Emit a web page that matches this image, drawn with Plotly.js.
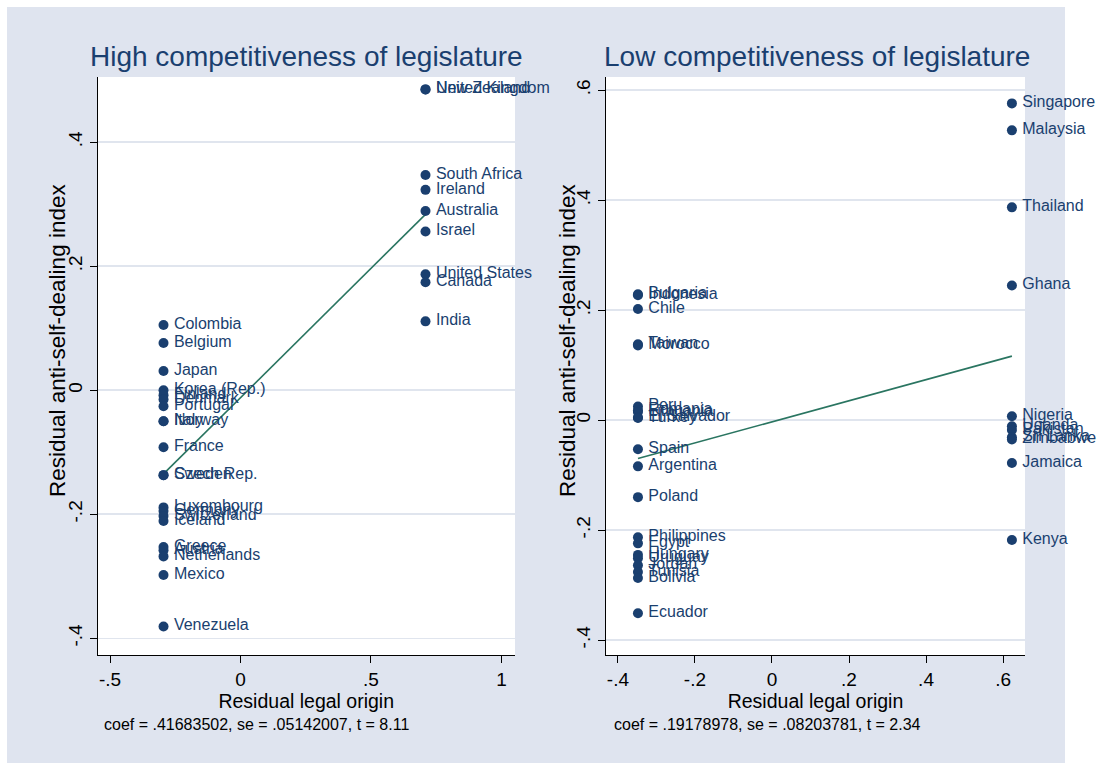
<!DOCTYPE html>
<html>
<head>
<meta charset="utf-8">
<script src="https://cdn.plot.ly/plotly-3.0.1.min.js"></script>
<style>html,body{margin:0;padding:0;background:#fff;}#chart{width:1097px;height:769px;}</style>
</head>
<body>
<div id="chart"></div>
<script>
// ---- data: high competitiveness of legislature ----
const hiCountries = ["Colombia","Belgium","Japan","Korea (Rep.)","Finland","Denmark","Portugal","Italy","Norway","France","Czech Rep.","Sweden","Luxembourg","Germany","Switzerland","Iceland","Greece","Austria","Netherlands","Mexico","Venezuela","New Zealand","United Kingdom","South Africa","Ireland","Australia","Israel","United States","Canada","India"];
const hiX = [-0.295,-0.295,-0.295,-0.295,-0.295,-0.295,-0.295,-0.295,-0.295,-0.295,-0.295,-0.295,-0.295,-0.295,-0.295,-0.295,-0.295,-0.295,-0.295,-0.295,-0.295,0.709,0.709,0.709,0.709,0.709,0.709,0.709,0.709,0.709];
const hiY = [0.105,0.076,0.031,0.000,-0.008,-0.015,-0.026,-0.050,-0.050,-0.092,-0.137,-0.137,-0.189,-0.195,-0.203,-0.211,-0.253,-0.258,-0.268,-0.298,-0.381,0.485,0.485,0.347,0.323,0.289,0.256,0.187,0.174,0.111];
const hiCoef = 0.41683502, hiIntercept = -0.012;
const hiNote = "coef = .41683502, se = .05142007, t = 8.11";

// ---- data: low competitiveness of legislature ----
const loCountries = ["Bulgaria","Indonesia","Chile","Taiwan","Morocco","Peru","Romania","Lithuania","El Salvador","Turkey","Spain","Argentina","Poland","Philippines","Egypt","Hungary","Uruguay","Jordan","Tunisia","Bolivia","Ecuador","Singapore","Malaysia","Thailand","Ghana","Nigeria","Uganda","Pakistan","Sri Lanka","Zimbabwe","Jamaica","Kenya"];
const loX = [-0.348,-0.348,-0.348,-0.348,-0.348,-0.348,-0.348,-0.348,-0.348,-0.348,-0.348,-0.348,-0.348,-0.348,-0.348,-0.348,-0.348,-0.348,-0.348,-0.348,-0.348,0.623,0.623,0.623,0.623,0.623,0.623,0.623,0.623,0.623,0.623,0.623];
const loY = [0.229,0.227,0.202,0.138,0.136,0.025,0.018,0.015,0.005,0.004,-0.053,-0.084,-0.140,-0.213,-0.224,-0.245,-0.251,-0.264,-0.276,-0.287,-0.351,0.576,0.527,0.387,0.245,0.007,-0.011,-0.018,-0.031,-0.035,-0.078,-0.218];
const loCoef = 0.19178978, loIntercept = -0.003;
const loNote = "coef = .19178978, se = .08203781, t = 2.34";

const leftTicks = [-0.5,0,0.5,1], leftTickText = ["-.5","0",".5","1"];
const rightTicks = [-0.4,-0.2,0,0.2,0.4,0.6], rightTickText = ["-.4","-.2","0",".2",".4",".6"];
const leftYTicks = [-0.4,-0.2,0,0.2,0.4], leftYTickText = ["-.4","-.2","0",".2",".4"];
const rightYTicks = [-0.4,-0.2,0,0.2,0.4,0.6], rightYTickText = ["-.4","-.2","0",".2",".4",".6"];
const xTitle = "Residual legal origin";
const yTitle = "Residual anti-self-dealing index";
const titles = ["High competitiveness of legislature", "Low competitiveness of legislature"];

// ---- style ----
const W = 1097, H = 769;
const FONT = "Liberation Sans, Arial, sans-serif";
const NAVY = "#1a3f6f";
const LINE = "#2a7561";
const BG = "#dfe4ef";

function fitLine(xs, a, b, xa, ya) {
  const x0 = Math.min(...xs), x1 = Math.max(...xs);
  return {x:[x0,x1], y:[a+b*x0, a+b*x1], mode:"lines", type:"scatter",
    line:{color:LINE, width:1.6}, xaxis:xa, yaxis:ya, hoverinfo:"skip", cliponaxis:false};
}
function labels(xs, ys, names, xa, ya) {
  return {x:xs, y:ys, text:names, mode:"markers+text", type:"scatter",
    textposition:"middle right", textfont:{family:FONT, size:16, color:NAVY},
    marker:{color:"rgba(0,0,0,0)", size:15}, xaxis:xa, yaxis:ya, cliponaxis:false};
}
function dots(xs, ys, xa, ya) {
  return {x:xs, y:ys, mode:"markers", type:"scatter",
    marker:{color:NAVY, size:10}, xaxis:xa, yaxis:ya, cliponaxis:false};
}

const traces = [
  fitLine(hiX, hiIntercept, hiCoef, "x", "y"),
  labels(hiX, hiY, hiCountries, "x", "y"),
  dots(hiX, hiY, "x", "y"),
  fitLine(loX, loIntercept, loCoef, "x2", "y2"),
  labels(loX, loY, loCountries, "x2", "y2"),
  dots(loX, loY, "x2", "y2")
];

const px = v => v / W, py = v => 1 - v / H;

function xax(dom, range, tv, tt, anchor) {
  return {domain:dom, range:range, tickvals:tv, ticktext:tt, anchor:anchor, showline:true, linecolor:"#000", linewidth:1,
    ticks:"outside", ticklen:7, tickcolor:"#000", tickfont:{family:FONT, size:19, color:"#000"},
    showgrid:false, zeroline:false, fixedrange:true,
    title:{text:xTitle, font:{family:FONT, size:19.5, color:"#000"}, standoff:0}};
}
function yax(range, tv, tt, anchor) {
  return {domain:[py(655), py(77)], range:range, tickvals:tv, ticktext:tt, tickangle:-90, anchor:anchor,
    showline:true, linecolor:"#000", linewidth:1, ticks:"outside", ticklen:7, tickcolor:"#000",
    tickfont:{family:FONT, size:19, color:"#000"}, showgrid:true, gridcolor:"#e0e5ee", gridwidth:1.5,
    zeroline:false, fixedrange:true};
}

const layout = {
  width:W, height:H, autosize:false, showlegend:false,
  margin:{l:0, r:0, t:0, b:0},
  paper_bgcolor:BG, plot_bgcolor:"#ffffff",
  font:{family:FONT},
  xaxis: xax([px(97.5), px(515)], [-0.548, 1.052], leftTicks, leftTickText, "y"),
  yaxis: yax([-0.427, 0.505], leftYTicks, leftYTickText, "x"),
  xaxis2: xax([px(606), px(1025)], [-0.431, 0.657], rightTicks, rightTickText, "y2"),
  yaxis2: yax([-0.427, 0.624], rightYTicks, rightYTickText, "x2"),
  shapes:[
    {type:"rect", xref:"paper", yref:"paper", x0:0, x1:px(7), y0:0, y1:1, fillcolor:"#fff", line:{width:0}, layer:"below"},
    {type:"rect", xref:"paper", yref:"paper", x0:px(1065), x1:1, y0:0, y1:1, fillcolor:"#fff", line:{width:0}, layer:"below"},
    {type:"rect", xref:"paper", yref:"paper", x0:0, x1:1, y0:py(7), y1:1, fillcolor:"#fff", line:{width:0}, layer:"below"},
    {type:"rect", xref:"paper", yref:"paper", x0:0, x1:1, y0:0, y1:py(763), fillcolor:"#fff", line:{width:0}, layer:"below"}
  ],
  annotations:[
    {text:titles[0], xref:"paper", yref:"paper", x:px(306), y:py(57), showarrow:false,
      xanchor:"center", yanchor:"middle", font:{family:FONT, size:28, color:NAVY}},
    {text:titles[1], xref:"paper", yref:"paper", x:px(817), y:py(57), showarrow:false,
      xanchor:"center", yanchor:"middle", font:{family:FONT, size:28, color:NAVY}},
    {text:yTitle, xref:"paper", yref:"paper", x:px(57), y:py(341), showarrow:false, textangle:-90,
      xanchor:"center", yanchor:"middle", font:{family:FONT, size:22.5, color:"#000"}},
    {text:yTitle, xref:"paper", yref:"paper", x:px(567), y:py(341), showarrow:false, textangle:-90,
      xanchor:"center", yanchor:"middle", font:{family:FONT, size:22.5, color:"#000"}},
    {text:hiNote, xref:"paper", yref:"paper", x:px(102), y:py(724), showarrow:false,
      xanchor:"left", yanchor:"middle", font:{family:FONT, size:16, color:"#000"}},
    {text:loNote, xref:"paper", yref:"paper", x:px(612), y:py(724), showarrow:false,
      xanchor:"left", yanchor:"middle", font:{family:FONT, size:16, color:"#000"}}
  ]
};

Plotly.newPlot("chart", traces, layout, {displayModeBar:false, staticPlot:true});
</script>
</body>
</html>
